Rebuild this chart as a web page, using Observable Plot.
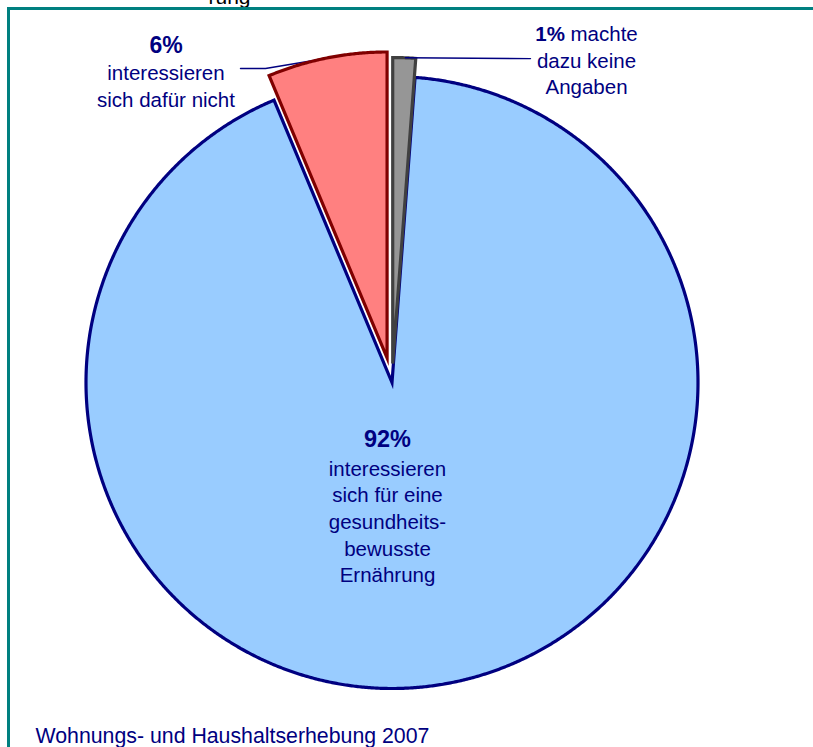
<!DOCTYPE html>
<html><head><meta charset="utf-8">
<script src="https://cdn.jsdelivr.net/npm/d3@7"></script>
<script src="https://cdn.jsdelivr.net/npm/@observablehq/plot@0.6"></script>
<style>
html,body{margin:0;padding:0;background:#fff;overflow:hidden;}
#wrap{position:relative;width:813px;height:747px;overflow:hidden;}
#frame{position:absolute;left:7px;top:7px;width:900px;height:900px;border-left:3px solid #008080;border-top:3px solid #008080;pointer-events:none;}
</style></head><body>
<div id="wrap"><div id="chart"></div><div id="frame"></div></div>
<script>
// ---- data ----
const categories = ["machte dazu keine Angaben", "interessieren sich für eine gesundheitsbewusste Ernährung", "interessieren sich dafür nicht"];
const shares = [1.2, 92.5, 6.3];
const percentLabels = ["1%", "92%", "6%"];
const headText = ["machte", "", ""];
const bodyLines = [["dazu keine", "Angaben"], ["interessieren", "sich für eine", "gesundheits-", "bewusste", "Ernährung"], ["interessieren", "sich dafür nicht"]];
const source = "Wohnungs- und Haushaltserhebung 2007";
const titleTail = "rung";

// ---- layout / style ----
const W = 813, H = 747;
const cx = 391.5, cy = 382, R = 306;
const navy = "#000080";
const font = "Liberation Sans, Arial, Helvetica, sans-serif";
const sliceStyle = [
  {fill: "#969696", stroke: "#404040", explode: 19},
  {fill: "#99CCFF", stroke: "#000080", explode: 0},
  {fill: "#FF8080", stroke: "#800000", explode: 25}
];
const labelLayout = [
  {x: 586, head: 40.8, body: 67.3, step: 26.3, inline: true, headSize: 20.5},
  {x: 387, head: 446.5, body: 475, step: 26.7, inline: false, headSize: 23.5},
  {x: 165.5, head: 52, body: 79.5, step: 26.5, inline: false, headSize: 23}
];

const arcs = d3.pie().sort(null).value(d => d)(shares);
const slices = arcs.map((a, i) => {
  const mid = (a.startAngle + a.endAngle) / 2;
  const e = sliceStyle[i].explode;
  const ox = cx + e * Math.sin(mid), oy = cy - e * Math.cos(mid);
  const pts = [{x: ox, y: oy}];
  const n = Math.max(4, Math.ceil((a.endAngle - a.startAngle) / 0.005));
  for (let k = 0; k <= n; k++) {
    const t = a.startAngle + (a.endAngle - a.startAngle) * k / n;
    pts.push({x: ox + R * Math.sin(t), y: oy - R * Math.cos(t)});
  }
  return {pts, ox, oy, a};
});
const arcPoint = (i, frac) => {
  const s = slices[i], t = s.a.startAngle + (s.a.endAngle - s.a.startAngle) * frac;
  return {x: s.ox + R * Math.sin(t), y: s.oy - R * Math.cos(t)};
};

// leader lines
const g0 = arcPoint(0, 0.55);
const leaderGray = [g0, {x: 530, y: g0.y + 0.8}];
const r0 = arcPoint(2, 0.45);
const leaderRed = [{x: 240, y: 68}, {x: 265, y: 68}, r0];

// text data
const texts = [];
labelLayout.forEach((L, i) => {
  if (L.inline) {
    texts.push({x: L.x - 21.5, y: L.head, t: percentLabels[i], anchor: "end", size: L.headSize, weight: "bold"});
    texts.push({x: L.x - 16, y: L.head, t: headText[i], anchor: "start", size: 20.5, weight: "normal"});
  } else {
    texts.push({x: L.x, y: L.head, t: percentLabels[i], anchor: "middle", size: L.headSize, weight: "bold"});
  }
  bodyLines[i].forEach((line, k) => texts.push({x: L.x, y: L.body + k * L.step, t: line, anchor: "middle", size: 20.5, weight: "normal"}));
});

const textMark = (data) => ["start", "middle", "end"].flatMap(anchor =>
  [...new Set(data.map(d => d.size + "|" + d.weight))].map(key => {
    const [size, weight] = key.split("|");
    const sub = data.filter(d => d.anchor === anchor && String(d.size) === size && d.weight === weight);
    return Plot.text(sub, {x: "x", y: "y", text: "t", textAnchor: anchor, lineAnchor: "bottom",
      fontSize: +size, fontWeight: weight, fill: navy, fontFamily: font});
  }));

const sliceMark = (i) => Plot.line(slices[i].pts, {x: "x", y: "y", curve: "linear-closed",
  fill: sliceStyle[i].fill, stroke: sliceStyle[i].stroke, strokeWidth: 3.2,
  strokeLinejoin: "miter", strokeMiterlimit: 12});

const chart = Plot.plot({
  width: W, height: H, margin: 0,
  x: {domain: [0, W], range: [0, W], axis: null},
  y: {domain: [0, H], range: [0, H], axis: null},
  style: {background: "white", fontFamily: font, overflow: "visible"},
  marks: [
    sliceMark(1),
    sliceMark(0),
    Plot.line(leaderGray, {x: "x", y: "y", stroke: navy, strokeWidth: 1.4}),
    Plot.line(leaderRed, {x: "x", y: "y", stroke: navy, strokeWidth: 1.4}),
    sliceMark(2),
    ...textMark(texts),
    Plot.text([source], {x: () => 35, y: () => 742, text: d => d, textAnchor: "start", lineAnchor: "bottom", fontSize: 21.3, fill: navy, fontFamily: font}),
    Plot.text([titleTail], {x: () => 250, y: () => 3, text: d => d, textAnchor: "end", lineAnchor: "bottom", fontSize: 21, fill: "#000", fontFamily: font})
  ]
});
document.getElementById("chart").appendChild(chart);
</script>
</body></html>
